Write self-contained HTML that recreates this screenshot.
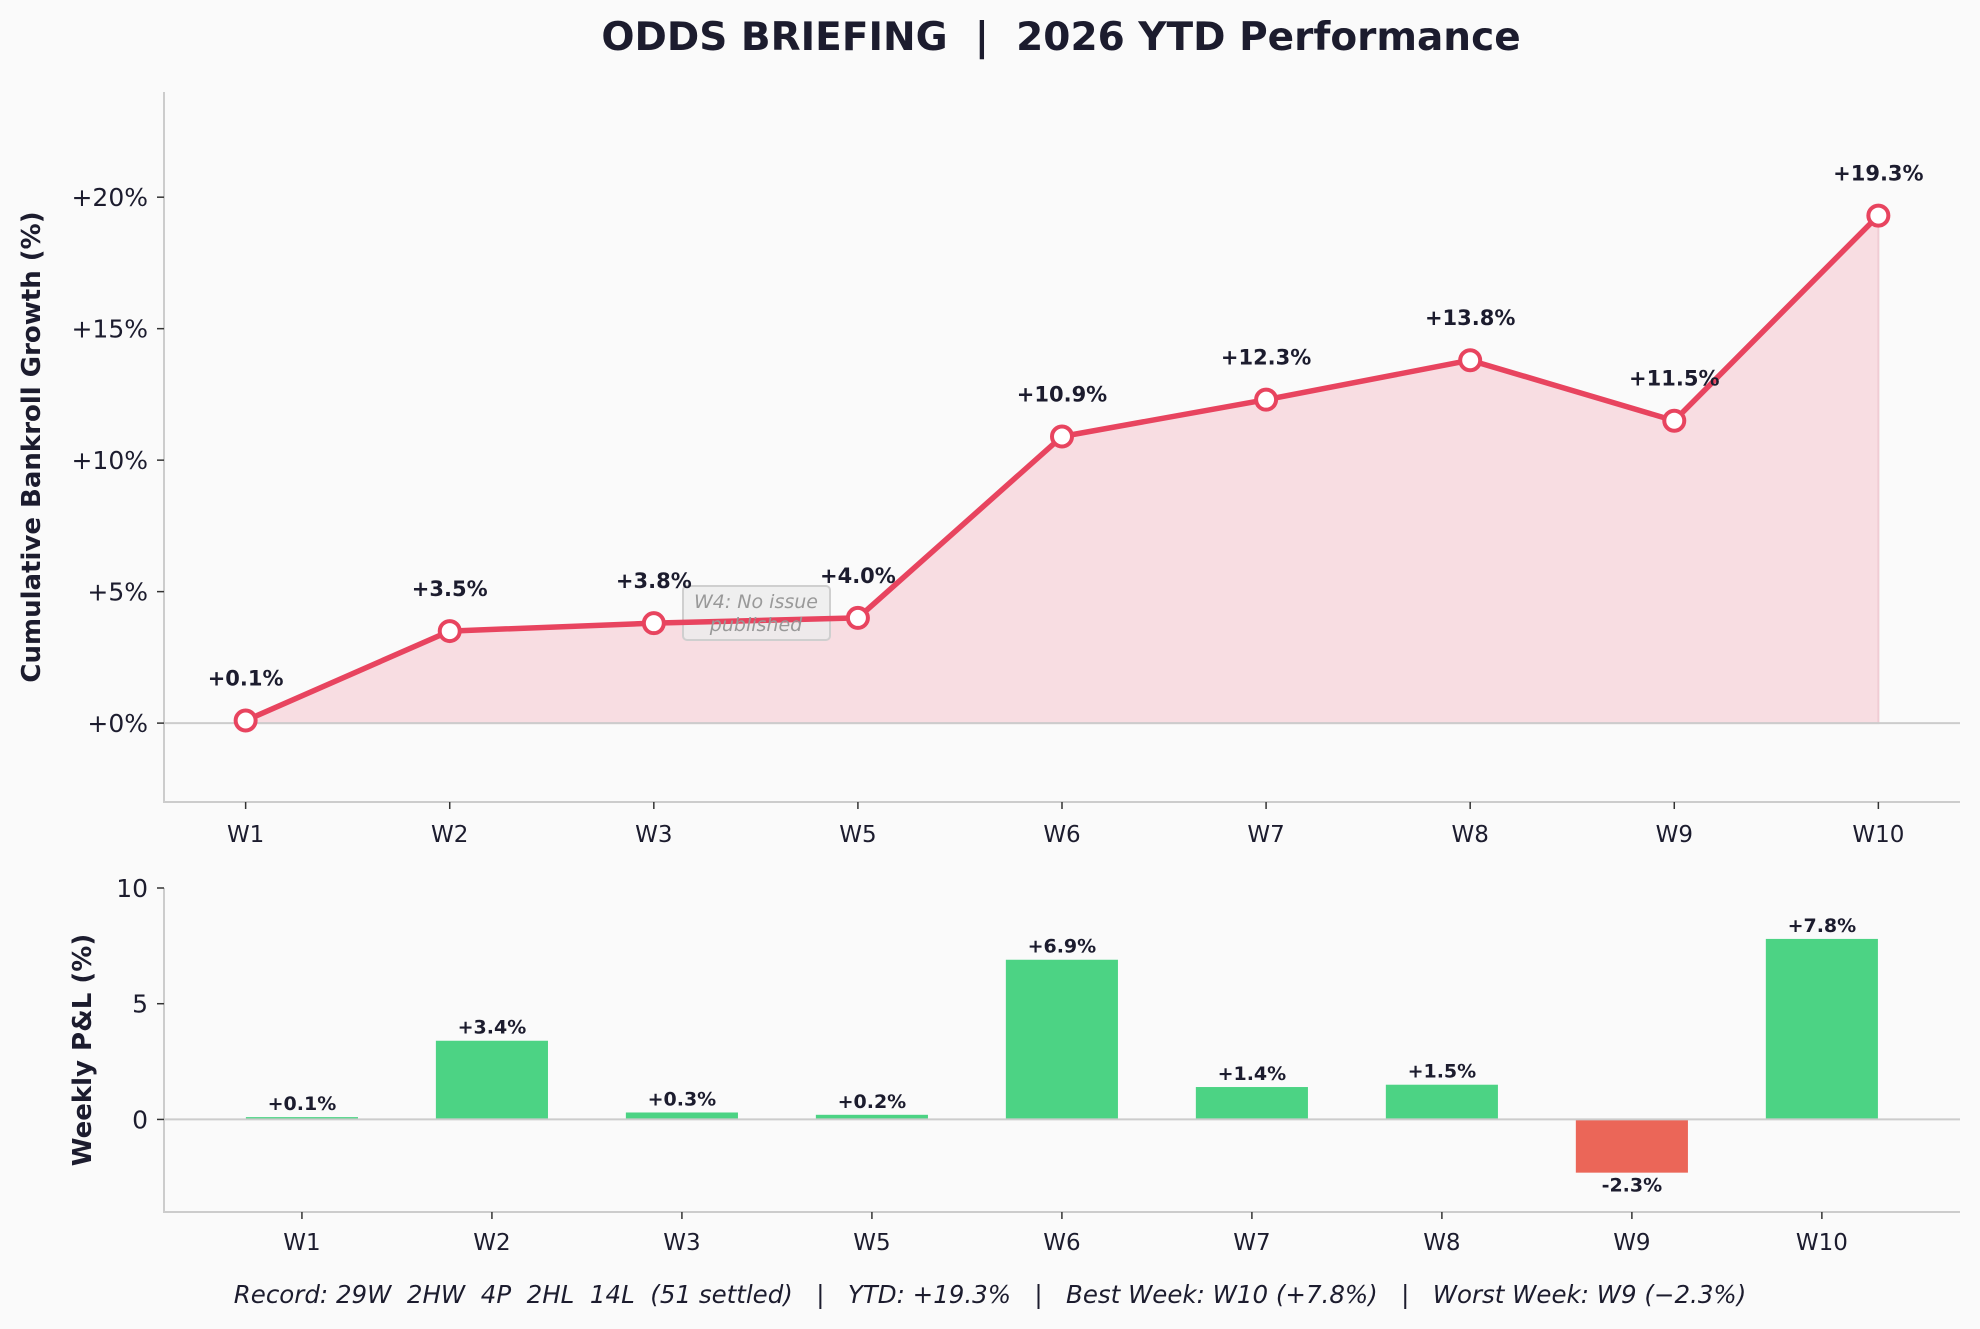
<!DOCTYPE html>
<html><head><meta charset="utf-8"><style>
body{margin:0;background:#fafafa;}
svg{display:block;font-family:"DejaVu Sans","Liberation Sans",sans-serif;}
.pre{white-space:pre;}
</style></head><body>
<svg id="c" width="1980" height="1329" viewBox="0 0 1980 1329">
<rect width="1980" height="1329" fill="#fafafa"/>
<text class="pre" x="1061" y="50" text-anchor="middle" font-size="39" font-weight="bold" fill="#1c1c2e">ODDS BRIEFING  |  2026 YTD Performance</text>
</svg>
<script>
const weeks=["W1","W2","W3","W5","W6","W7","W8","W9","W10"];
const cumulative=[0.1,3.5,3.8,4.0,10.9,12.3,13.8,11.5,19.3];
const weekly=[0.1,3.4,0.3,0.2,6.9,1.4,1.5,-2.3,7.8];
const topTicks=[0,5,10,15,20];
const botTicks=[0,5,10];
const NS="http://www.w3.org/2000/svg";
const svg=document.getElementById('c');
function mk(t,a,p){const e=document.createElementNS(NS,t);for(const k in a)e.setAttribute(k,a[k]);(p||svg).appendChild(e);return e;}
const T={l:164,r:1960,t:92,b:802,x0:-0.4,x1:8.4,y0:-3,y1:24};
const tx=i=>T.l+(i-T.x0)/(T.x1-T.x0)*(T.r-T.l);
const ty=v=>T.b-(v-T.y0)/(T.y1-T.y0)*(T.b-T.t);
const B={l:164,r:1960,t:888,b:1212,x0:-0.726,x1:8.727,y0:-4,y1:10};
const bx=i=>B.l+(i-B.x0)/(B.x1-B.x0)*(B.r-B.l);
const by=v=>B.b-(v-B.y0)/(B.y1-B.y0)*(B.b-B.t);
let d=`M${tx(0)},${ty(0)}`;cumulative.forEach((v,i)=>d+=` L${tx(i)},${ty(v)}`);d+=` L${tx(cumulative.length-1)},${ty(0)} Z`;
let f=mk('path',{d:d,fill:'#f8dde2',stroke:'#f0ccd4','stroke-width':2});

let zl=mk('line',{x1:T.l,x2:T.r,y1:ty(0),y2:ty(0),stroke:'#cccccc','stroke-width':2});

let s1=mk('path',{d:`M${T.l},${T.t} L${T.l},${T.b} L${T.r},${T.b}`,fill:'none',stroke:'#cccccc','stroke-width':2});

topTicks.forEach(v=>{
 mk('line',{x1:T.l-7,x2:T.l,y1:ty(v),y2:ty(v),stroke:'#333','stroke-width':1.5});
 const t=mk('text',{x:T.l-16,y:ty(v)+9,'text-anchor':'end','font-size':25,fill:'#1c1c2e'});t.textContent='+'+v+'%';
 
});
weeks.forEach((w,i)=>{
 mk('line',{x1:tx(i),x2:tx(i),y1:T.b,y2:T.b+7,stroke:'#333','stroke-width':1.5});
 const t=mk('text',{x:tx(i),y:T.b+40,'text-anchor':'middle','font-size':23,fill:'#1c1c2e'});t.textContent=w;
 
});
let yl=mk('text',{transform:`translate(40,447) rotate(-90)`,'text-anchor':'middle','font-size':26,'font-weight':'bold',fill:'#1c1c2e'});
yl.textContent='Cumulative Bankroll Growth (%)';
let nb=mk('rect',{x:683,y:586,width:147,height:54,rx:4,fill:'#ececec','fill-opacity':0.85,stroke:'#cfcfcf','stroke-width':2});

let line=cumulative.map((v,i)=>`${tx(i)},${ty(v)}`).join(' ');
let pl=mk('polyline',{points:line,fill:'none',stroke:'#e8445f','stroke-width':5.5,'stroke-linejoin':'round'});

let n1=mk('text',{x:756,y:608,'text-anchor':'middle','font-size':19,'font-style':'italic',fill:'#999'});n1.textContent='W4: No issue';

let n2=mk('text',{x:756,y:631,'text-anchor':'middle','font-size':19,'font-style':'italic',fill:'#999'});n2.textContent='published';

cumulative.forEach((v,i)=>{
 const c=mk('circle',{cx:tx(i),cy:ty(v),r:10,fill:'#fff',stroke:'#e8445f','stroke-width':4});
 
 const t=mk('text',{x:tx(i),y:ty(v)-35,'text-anchor':'middle','font-size':21,'font-weight':'bold',fill:'#1c1c2e'});
 t.textContent='+'+v.toFixed(1)+'%';
});
let s2=mk('path',{d:`M${B.l},${B.t} L${B.l},${B.b} L${B.r},${B.b}`,fill:'none',stroke:'#cccccc','stroke-width':2});

botTicks.forEach(v=>{
 mk('line',{x1:B.l-7,x2:B.l,y1:by(v),y2:by(v),stroke:'#333','stroke-width':1.5});
 const t=mk('text',{x:B.l-16,y:by(v)+9,'text-anchor':'end','font-size':25,fill:'#1c1c2e'});t.textContent=v;
 
});
const bw=0.59*(bx(1)-bx(0));
weekly.forEach((v,i)=>{
 const y1=by(Math.max(v,0)),y2=by(Math.min(v,0));
 const r=mk('rect',{x:bx(i)-bw/2,y:y1,width:bw,height:y2-y1,fill:v>=0?'#4cd384':'#eb6658'});
 
 const t=mk('text',{x:bx(i),y:v>=0?y1-7:y2+19,'text-anchor':'middle','font-size':19,'font-weight':'bold',fill:'#1c1c2e'});
 t.textContent=(v>=0?'+':'')+v.toFixed(1)+'%';
 mk('line',{x1:bx(i),x2:bx(i),y1:B.b,y2:B.b+7,stroke:'#333','stroke-width':1.5});
 const xl=mk('text',{x:bx(i),y:B.b+38,'text-anchor':'middle','font-size':23,fill:'#1c1c2e'});xl.textContent=weeks[i];
 
});
let z2=mk('line',{x1:B.l,x2:B.r,y1:by(0),y2:by(0),stroke:'#cccccc','stroke-width':2});

let yl2=mk('text',{transform:`translate(91,1050) rotate(-90)`,'text-anchor':'middle','font-size':26,'font-weight':'bold',fill:'#1c1c2e'});
yl2.textContent='Weekly P&L (%)';
let ft=mk('text',{x:990,y:1303,'text-anchor':'middle','font-size':24.5,'font-style':'italic',fill:'#1c1c2e','class':'pre'});
ft.textContent='Record: 29W  2HW  4P  2HL  14L  (51 settled)   |   YTD: +19.3%   |   Best Week: W10 (+7.8%)   |   Worst Week: W9 (\u22122.3%)';

</script>
</body></html>
